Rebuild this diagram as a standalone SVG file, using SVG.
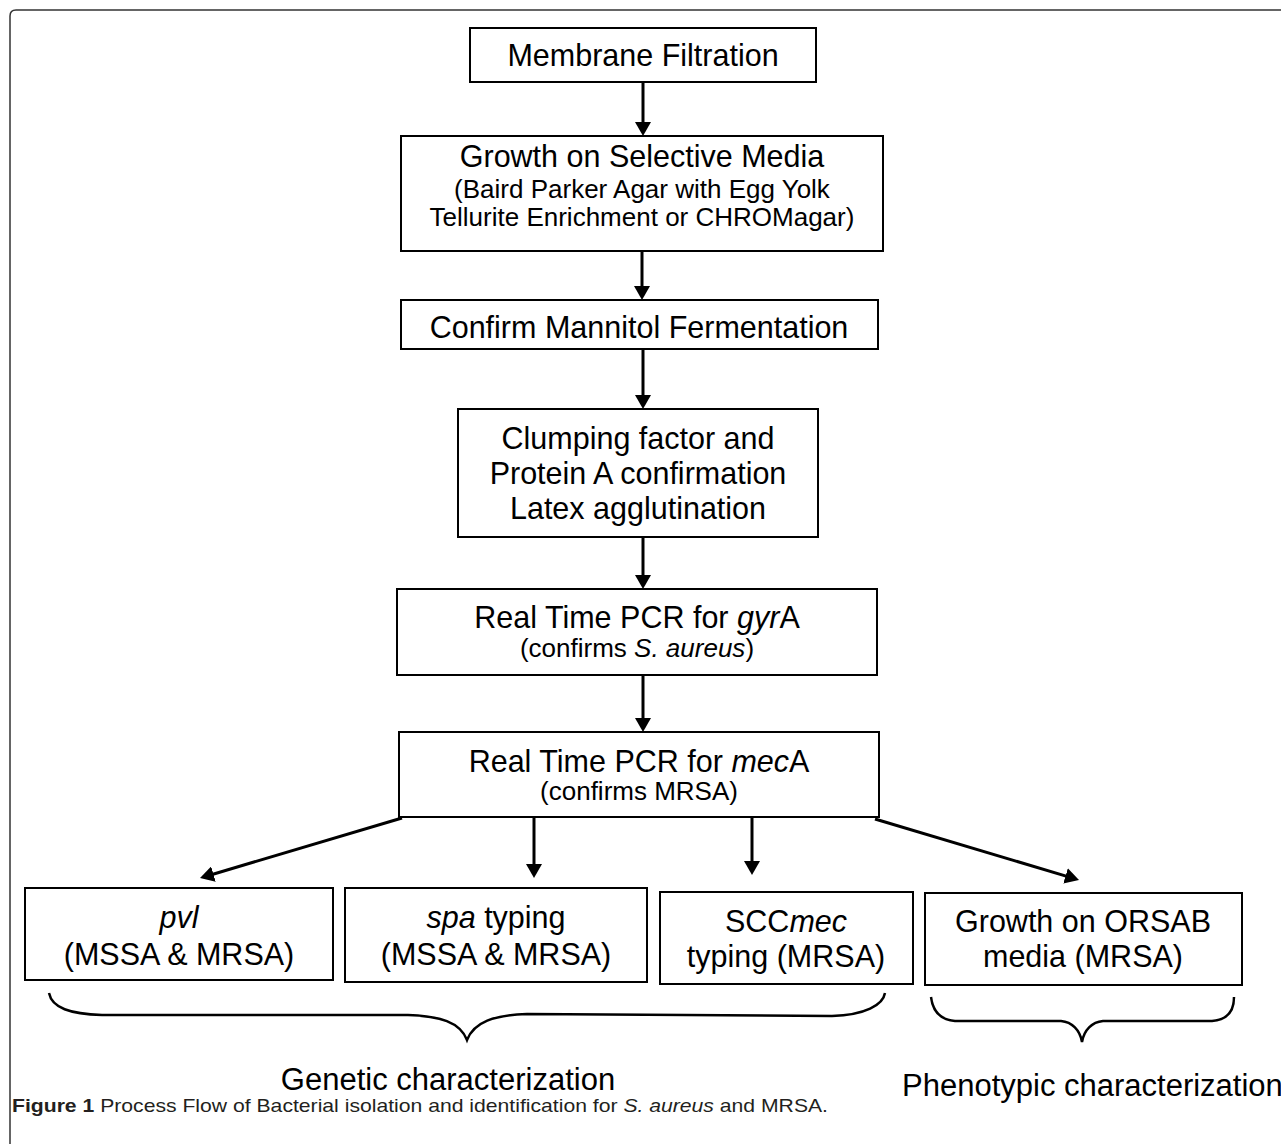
<svg xmlns="http://www.w3.org/2000/svg" width="1281" height="1144" viewBox="0 0 1281 1144">
<style>
.box{fill:#fff;stroke:#000;stroke-width:2}
.t{font-family:"Liberation Sans",Arial,sans-serif;fill:#000;text-anchor:middle}
.l{font-size:30.5px}
.s{font-size:26px}
.c{stroke:#000;stroke-width:3;fill:none}
.br{stroke:#000;stroke-width:2.5;fill:none}
.cap{font-family:"Liberation Sans",Arial,sans-serif;font-size:18.5px;fill:#231f20}
</style>
<defs>
<marker id="ah" viewBox="0 0 14 16" refX="4" refY="8" markerWidth="14" markerHeight="16" markerUnits="userSpaceOnUse" orient="auto">
<path d="M0,0 L14,8 L0,16 z" fill="#000"/>
</marker>
</defs>
<rect width="1281" height="1144" fill="#fff"/>
<path d="M10,1144 V16 Q10,10 16,10 H1281" fill="none" stroke="#333" stroke-width="1.5"/>

<g id="n1"><rect class="box" x="470" y="28" width="346" height="54"/>
<text class="t l" x="643" y="66">Membrane Filtration</text></g>

<g id="n2"><rect class="box" x="401" y="136" width="482" height="115"/>
<text class="t l" x="642" y="167">Growth on Selective Media</text>
<text class="t s" x="642" y="198">(Baird Parker Agar with Egg Yolk</text>
<text class="t s" x="642" y="226">Tellurite Enrichment or CHROMagar)</text></g>

<g id="n3"><rect class="box" x="401" y="300" width="477" height="49"/>
<text class="t l" x="639" y="338">Confirm Mannitol Fermentation</text></g>

<g id="n4"><rect class="box" x="458" y="409" width="360" height="128"/>
<text class="t l" x="638" y="449">Clumping factor and</text>
<text class="t l" x="638" y="484">Protein A confirmation</text>
<text class="t l" x="638" y="519">Latex agglutination</text></g>

<g id="n5"><rect class="box" x="397" y="589" width="480" height="86"/>
<text class="t l" x="637" y="628">Real Time PCR for <tspan font-style="italic">gyr</tspan>A</text>
<text class="t s" x="637" y="657">(confirms <tspan font-style="italic">S. aureus</tspan>)</text></g>

<g id="n6"><rect class="box" x="399" y="732" width="480" height="85"/>
<text class="t l" x="639" y="772">Real Time PCR for <tspan font-style="italic">mec</tspan>A</text>
<text class="t s" x="639" y="800">(confirms MRSA)</text></g>

<g id="n7"><rect class="box" x="25" y="888" width="308" height="92"/>
<text class="t l" x="179" y="928" font-style="italic">pvl</text>
<text class="t l" x="179" y="965">(MSSA &amp; MRSA)</text></g>

<g id="n8"><rect class="box" x="345" y="888" width="302" height="94"/>
<text class="t l" x="496" y="928"><tspan font-style="italic">spa</tspan> typing</text>
<text class="t l" x="496" y="965">(MSSA &amp; MRSA)</text></g>

<g id="n9"><rect class="box" x="660" y="892" width="253" height="92"/>
<text class="t l" x="786" y="932">SCC<tspan font-style="italic">mec</tspan></text>
<text class="t l" x="786" y="967">typing (MRSA)</text></g>

<g id="n10"><rect class="box" x="925" y="893" width="317" height="92"/>
<text class="t l" x="1083" y="932">Growth on ORSAB</text>
<text class="t l" x="1083" y="967">media (MRSA)</text></g>

<g id="connectors">
<line class="c" x1="643" y1="82" x2="643" y2="126" marker-end="url(#ah)"/>
<line class="c" x1="642" y1="251" x2="642" y2="290" marker-end="url(#ah)"/>
<line class="c" x1="643" y1="349" x2="643" y2="399" marker-end="url(#ah)"/>
<line class="c" x1="643" y1="537" x2="643" y2="579" marker-end="url(#ah)"/>
<line class="c" x1="643" y1="675" x2="643" y2="722" marker-end="url(#ah)"/>
<line class="c" x1="402" y1="818" x2="209.6" y2="875.2" marker-end="url(#ah)"/>
<line class="c" x1="534" y1="817" x2="534" y2="868" marker-end="url(#ah)"/>
<line class="c" x1="752" y1="817" x2="752" y2="865" marker-end="url(#ah)"/>
<line class="c" x1="875" y1="819" x2="1069.4" y2="877.1" marker-end="url(#ah)"/>
</g>

<g id="braces">
<path class="br" d="M49,993 C52,1008 70,1014 102,1015 L408,1015 C440,1016 460,1022 467,1040 C474,1022 494,1015 527,1014 L832,1016 C865,1015 883,1005 885,993"/>
<path class="br" d="M931,997 C933,1013 942,1020 955,1021 L1061,1021 C1072,1022 1080,1030 1082,1042 C1084,1030 1092,1022 1103,1021 L1212,1021 C1226,1020 1234,1012 1234,997"/>
</g>

<text class="t" font-size="31" x="448" y="1090">Genetic characterization</text>
<text font-family="Liberation Sans, Arial, sans-serif" font-size="31" x="902" y="1096">Phenotypic characterization</text>

<text class="cap" x="12" y="1112" textLength="816" lengthAdjust="spacingAndGlyphs"><tspan font-weight="bold">Figure 1</tspan> Process Flow of Bacterial isolation and identification for <tspan font-style="italic">S. aureus</tspan> and MRSA.</text>
</svg>
